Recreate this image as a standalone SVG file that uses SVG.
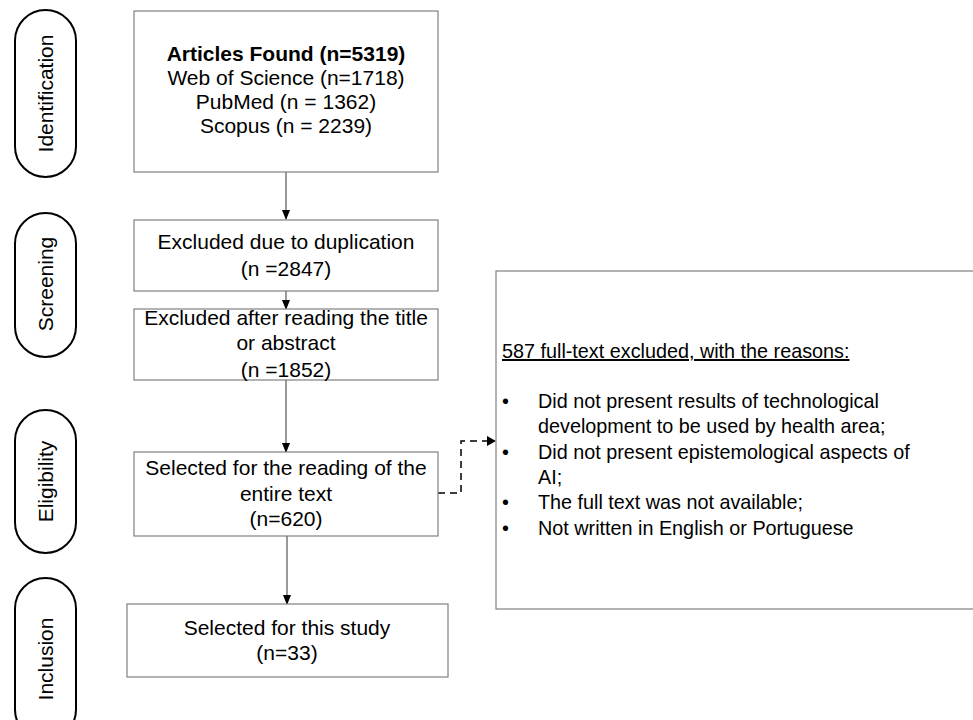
<svg xmlns="http://www.w3.org/2000/svg" width="973" height="720" viewBox="0 0 973 720">
<style>
text{font-family:"Liberation Sans",Arial,sans-serif;font-size:21px;fill:#000}
.c{text-anchor:middle}
.r{font-size:19.8px}
.pill{fill:#fff;stroke:#000;stroke-width:2}
.box{fill:#fff;stroke:#808080;stroke-width:1.2}
.ln{fill:none;stroke:#555;stroke-width:1.2}
.dash{fill:none;stroke:#000;stroke-width:1.5;stroke-dasharray:7,5}
</style>
<defs>
<marker id="ah" markerWidth="10" markerHeight="8" refX="9" refY="4" orient="auto" markerUnits="userSpaceOnUse">
<path d="M0,0 L10,4 L0,8 Z" fill="#000"/>
</marker>
</defs>
<rect width="973" height="720" fill="#fff"/>
<g id="phase-identification"><rect class="pill" x="15" y="10" width="61" height="167" rx="30.5"/><text class="c" transform="translate(53,93.5) rotate(-90)">Identification</text></g>
<g id="phase-screening"><rect class="pill" x="15" y="213" width="61" height="144" rx="30.5"/><text class="c" transform="translate(53,284) rotate(-90)">Screening</text></g>
<g id="phase-eligibility"><rect class="pill" x="15" y="410" width="61" height="143" rx="30.5"/><text class="c" transform="translate(53,481.5) rotate(-90)">Eligibility</text></g>
<g id="phase-inclusion"><rect class="pill" x="15" y="578" width="61" height="162" rx="30.5"/><text class="c" transform="translate(53,659) rotate(-90)">Inclusion</text></g>
<g id="connectors">
<line class="ln" x1="286" y1="172" x2="286" y2="219" marker-end="url(#ah)"/>
<line class="ln" x1="286" y1="291" x2="286" y2="309" marker-end="url(#ah)"/>
<line class="ln" x1="286" y1="380" x2="286" y2="452" marker-end="url(#ah)"/>
<line class="ln" x1="287" y1="536" x2="287" y2="604" marker-end="url(#ah)"/>
<path class="dash" d="M438,493 H461 V441 H487"/>
<path d="M487,436 L496,441 L487,446 Z" fill="#000"/>
</g>
<g id="n-found"><rect class="box" x="134" y="11" width="304" height="161"/>
<text class="c" x="286" y="61" font-weight="bold">Articles Found (n=5319)</text>
<text class="c" x="286" y="85">Web of Science (n=1718)</text>
<text class="c" x="286" y="109">PubMed (n = 1362)</text>
<text class="c" x="286" y="133">Scopus (n = 2239)</text></g>
<g id="n-dup"><rect class="box" x="134" y="220" width="304" height="71"/>
<text class="c" x="286" y="249">Excluded due to duplication</text>
<text class="c" x="286" y="276">(n =2847)</text></g>
<g id="n-title"><rect class="box" x="134" y="309" width="304" height="71"/>
<text class="c" x="286" y="325">Excluded after reading the title</text>
<text class="c" x="286" y="350">or abstract</text>
<text class="c" x="286" y="377">(n =1852)</text></g>
<g id="n-full"><rect class="box" x="134" y="452" width="304" height="84"/>
<text class="c" x="286" y="475">Selected for the reading of the</text>
<text class="c" x="286" y="501">entire text</text>
<text class="c" x="286" y="526">(n=620)</text></g>
<g id="n-study"><rect class="box" x="127" y="604" width="321" height="73"/>
<text class="c" x="287" y="635">Selected for this study</text>
<text class="c" x="287" y="660">(n=33)</text></g>
<g id="n-excluded"><rect class="box" x="496" y="271" width="480" height="338"/>
<text class="r" x="502" y="358" text-decoration="underline">587 full-text excluded, with the reasons:</text>
<text class="r" x="502" y="408">•</text><text class="r" x="538" y="408">Did not present results of technological</text>
<text class="r" x="538" y="433">development to be used by health area;</text>
<text class="r" x="502" y="459">•</text><text class="r" x="538" y="459">Did not present epistemological aspects of</text>
<text class="r" x="538" y="484">AI;</text>
<text class="r" x="502" y="509">•</text><text class="r" x="538" y="509">The full text was not available;</text>
<text class="r" x="502" y="535">•</text><text class="r" x="538" y="535">Not written in English or Portuguese</text></g>
</svg>
